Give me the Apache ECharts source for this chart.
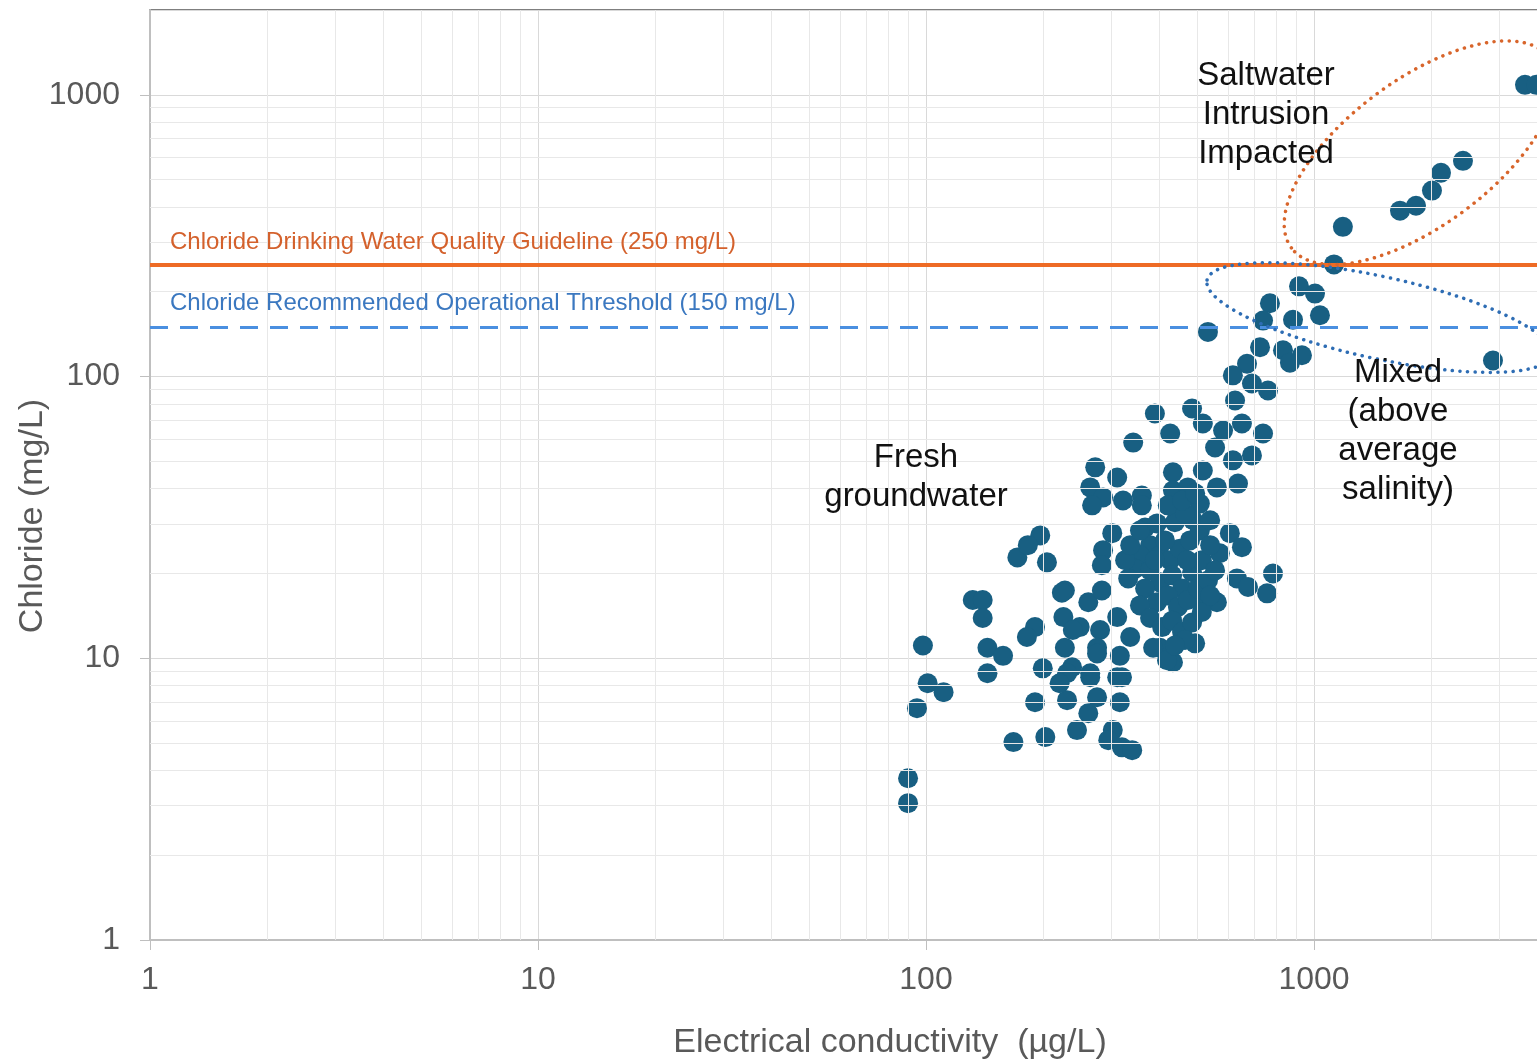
<!DOCTYPE html>
<html>
<head>
<meta charset="utf-8">
<script src="https://cdn.jsdelivr.net/npm/echarts@6/dist/echarts.min.js"></script>
<style>
  html, body { margin: 0; padding: 0; background: #fff; }
  #chart { width: 1537px; height: 1062px; }
</style>
</head>
<body>
<div id="chart"></div>
<script>
// electrical conductivity (µg/L) of each sample
const ecValues = [
  3498, 3740, 2421, 2125, 2014, 1832, 1666, 1187, 1126,
  915, 1006, 770, 739, 883, 1036, 533, 2893, 726, 832, 931, 867, 672, 618, 692, 761, 626, 485,
  389, 517, 426, 583, 652, 739, 342, 556, 618, 692, 273, 311, 433, 517, 265, 286, 322, 360, 268, 360,
  433, 473, 562, 637, 446, 508, 488, 302, 367, 607, 652, 286, 572,
  284, 784, 633, 676, 757, 228, 262, 284, 562, 517, 226, 249, 281, 311, 336, 276, 316, 401, 433, 494,
  228, 238, 265, 320, 231, 262, 316,
  197, 172, 205, 183, 132, 140, 140, 224, 239, 191, 182, 98.2, 144, 158, 144, 200, 231, 221, 101, 111,
  94.8, 191, 245, 168, 203, 89.9, 89.9,
  265, 276, 311, 276, 303, 295, 320, 340, 385, 418,
  378, 401, 426, 451, 479, 508, 413, 356, 346, 378, 401, 431, 457, 485, 514, 540, 367, 394, 420, 446,
  473, 502, 533, 356, 378, 406, 431, 457, 485, 514, 332, 326, 336, 356, 394, 438, 465, 420, 457, 494,
  540, 556, 540, 465, 438, 389, 471
];
// chloride (mg/L) of each sample
const clValues = [
  1085, 1085, 583, 529, 457, 404, 388, 340, 250,
  209, 197, 182, 158, 159, 165, 144, 114, 127, 124, 119, 112, 111, 101, 94.5, 89.2, 82.2, 77.0,
  73.9, 68.1, 62.8, 64.3, 68.1, 62.8, 58.3, 56.0, 50.4, 52.5, 47.6, 43.8, 45.7, 46.4, 40.4, 37.2, 36.3, 37.8, 34.9, 34.9,
  39.4, 40.4, 40.4, 41.7, 33.5, 35.4, 30.9, 27.8, 29.1, 27.8, 24.8, 24.2, 23.6,
  21.4, 20.0, 19.2, 17.9, 17.0, 17.4, 15.8, 17.4, 15.8, 15.8, 14.0, 12.9, 12.6, 14.0, 11.9, 10.9, 10.2, 10.9, 9.68, 11.3,
  10.9, 9.29, 8.85, 8.56, 7.10, 6.38, 6.98,
  27.3, 22.8, 21.9, 25.2, 16.1, 16.1, 13.9, 17.1, 12.6, 12.9, 11.9, 11.1, 10.9, 10.2, 8.85, 9.21, 8.85, 8.15, 8.15, 7.58,
  6.65, 6.98, 5.56, 5.04, 5.25, 3.75, 3.06,
  8.56, 10.4, 8.56, 7.27, 5.56, 5.12, 4.83, 4.72, 10.9, 9.84,
  25.2, 23.2, 22.3, 24.5, 26.2, 28.4, 26.2, 23.2, 20.8, 20.5, 18.6, 19.7, 17.7, 20.2, 22.3, 25.2, 17.7, 15.8, 16.7, 15.2,
  16.1, 17.7, 18.9, 15.4, 13.9, 12.9, 13.6, 12.4, 13.4, 14.6, 19.2, 22.3, 25.2, 28.4, 30.1, 30.4, 32.7, 34.9, 36.3, 38.5,
  30.9, 20.5, 16.7, 11.6, 11.1, 22.3, 22.3
];

const decades = [1, 10, 100, 1000];
const xMax = 3824;
const yMax = 2000;
const guidelineValue = 250;
const thresholdValue = 150;
const guidelineText = 'Chloride Drinking Water Quality Guideline (250 mg/L)';
const thresholdText = 'Chloride Recommended Operational Threshold (150 mg/L)';

// centres of the circled groups: [ec, cl]
const saltwaterCentre = [1876, 623];
const mixedCentre = [1471, 162];

const font = '"Liberation Sans", Arial, sans-serif';
const points = ecValues.map((v, i) => [v, clValues[i]]);

// minor gridlines at 2..9 of each decade
const minorX = [], minorY = [];
decades.forEach(d => {
  for (let k = 2; k < 10; k++) {
    if (d * k < xMax) minorX.push(d * k);
    if (d * k < yMax) minorY.push(d * k);
  }
});

const axisLabelStyle = {
  fontSize: 32, color: '#595959', fontFamily: font,
  showMinLabel: true, showMaxLabel: false,
  formatter: v => String(v)
};

const option = {
  animation: false,
  backgroundColor: '#fff',
  grid: {
    left: 150, top: 10, right: -3, bottom: 122,
    outerBoundsMode: 'none', containLabel: false,
    show: true, borderColor: '#7f7f7f', borderWidth: 2
  },
  xAxis: {
    type: 'log', logBase: 10, min: 1, max: xMax,
    name: 'Electrical conductivity  (µg/L)',
    nameLocation: 'middle', nameGap: 86, nameMoveOverlap: false,
    nameTextStyle: { fontSize: 34, color: '#595959', fontFamily: font, padding: [0, 0, 0, 90] },
    axisLine: { show: true, lineStyle: { color: '#bfbfbf', width: 2 } },
    axisTick: { show: true, length: 10, lineStyle: { color: '#bfbfbf', width: 1 } },
    axisLabel: Object.assign({ margin: 24 }, axisLabelStyle),
    splitLine: { show: true, lineStyle: { color: '#d9d9d9', width: 1 } }
  },
  yAxis: {
    type: 'log', logBase: 10, min: 1, max: yMax,
    name: 'Chloride (mg/L)',
    nameLocation: 'middle', nameGap: 100, nameMoveOverlap: false,
    nameTextStyle: { fontSize: 34, color: '#595959', fontFamily: font, padding: [0, 82, 0, 0] },
    axisLine: { show: true, lineStyle: { color: '#bfbfbf', width: 2 } },
    axisTick: { show: true, length: 10, lineStyle: { color: '#bfbfbf', width: 1 } },
    axisLabel: Object.assign({ margin: 30 }, axisLabelStyle),
    splitLine: { show: true, lineStyle: { color: '#d9d9d9', width: 1 } }
  },
  series: [
    {
      type: 'scatter', data: [], z: 1, silent: true,
      markLine: {
        silent: true, symbol: 'none', animation: false,
        label: { show: false },
        lineStyle: { color: '#e8e8e8', width: 1, type: 'solid' },
        data: minorX.map(v => ({ xAxis: v })).concat(minorY.map(v => ({ yAxis: v })))
      }
    },
    {
      type: 'scatter', data: [], z: 2, silent: true,
      markLine: {
        silent: true, symbol: 'none', animation: false,
        data: [
          {
            yAxis: guidelineValue,
            lineStyle: { color: '#ee6b25', width: 4, type: 'solid' },
            label: {
              show: true, position: 'insideStartTop', formatter: guidelineText,
              color: '#d4612c', fontSize: 24, fontFamily: font, distance: [20, 10]
            }
          },
          {
            yAxis: thresholdValue,
            lineStyle: { color: '#4a8fe0', width: 3, type: [18, 12] },
            label: {
              show: true, position: 'insideStartTop', formatter: thresholdText,
              color: '#3b78c0', fontSize: 24, fontFamily: font, distance: [20, 12]
            }
          }
        ]
      }
    },
    {
      type: 'scatter', data: points, z: 3,
      symbol: 'circle', symbolSize: 20,
      itemStyle: { color: '#185f82', opacity: 1 }
    }
  ]
};

const chart = echarts.init(document.getElementById('chart'));
chart.setOption(option);

const sc = chart.convertToPixel({ gridIndex: 0 }, saltwaterCentre);
const mc = chart.convertToPixel({ gridIndex: 0 }, mixedCentre);
const dotted = c => ({ fill: 'none', stroke: c, lineWidth: 3.5, lineDash: [0.1, 7.5], lineCap: 'round' });
const textStyle = txt => ({ text: txt, fontSize: 33, fontFamily: font, fill: '#111', align: 'center', verticalAlign: 'top', lineHeight: 39 });

chart.setOption({
  graphic: [
    { type: 'ellipse', x: sc[0], y: sc[1], rotation: 36.5 * Math.PI / 180, shape: { cx: 0, cy: 0, rx: 160, ry: 73 }, style: dotted('#d8652b'), silent: true, z: 10 },
    { type: 'ellipse', x: mc[0], y: mc[1], rotation: -12.3 * Math.PI / 180, shape: { cx: 0, cy: 0, rx: 176, ry: 41 }, style: dotted('#2e6db4'), silent: true, z: 10 },
    { type: 'text', x: 1266, y: 56, style: textStyle('Saltwater\nIntrusion\nImpacted'), z: 11 },
    { type: 'text', x: 916, y: 438, style: textStyle('Fresh\ngroundwater'), z: 11 },
    { type: 'text', x: 1398, y: 353, style: textStyle('Mixed\n(above\naverage\nsalinity)'), z: 11 }
  ]
});
</script>
</body>
</html>
